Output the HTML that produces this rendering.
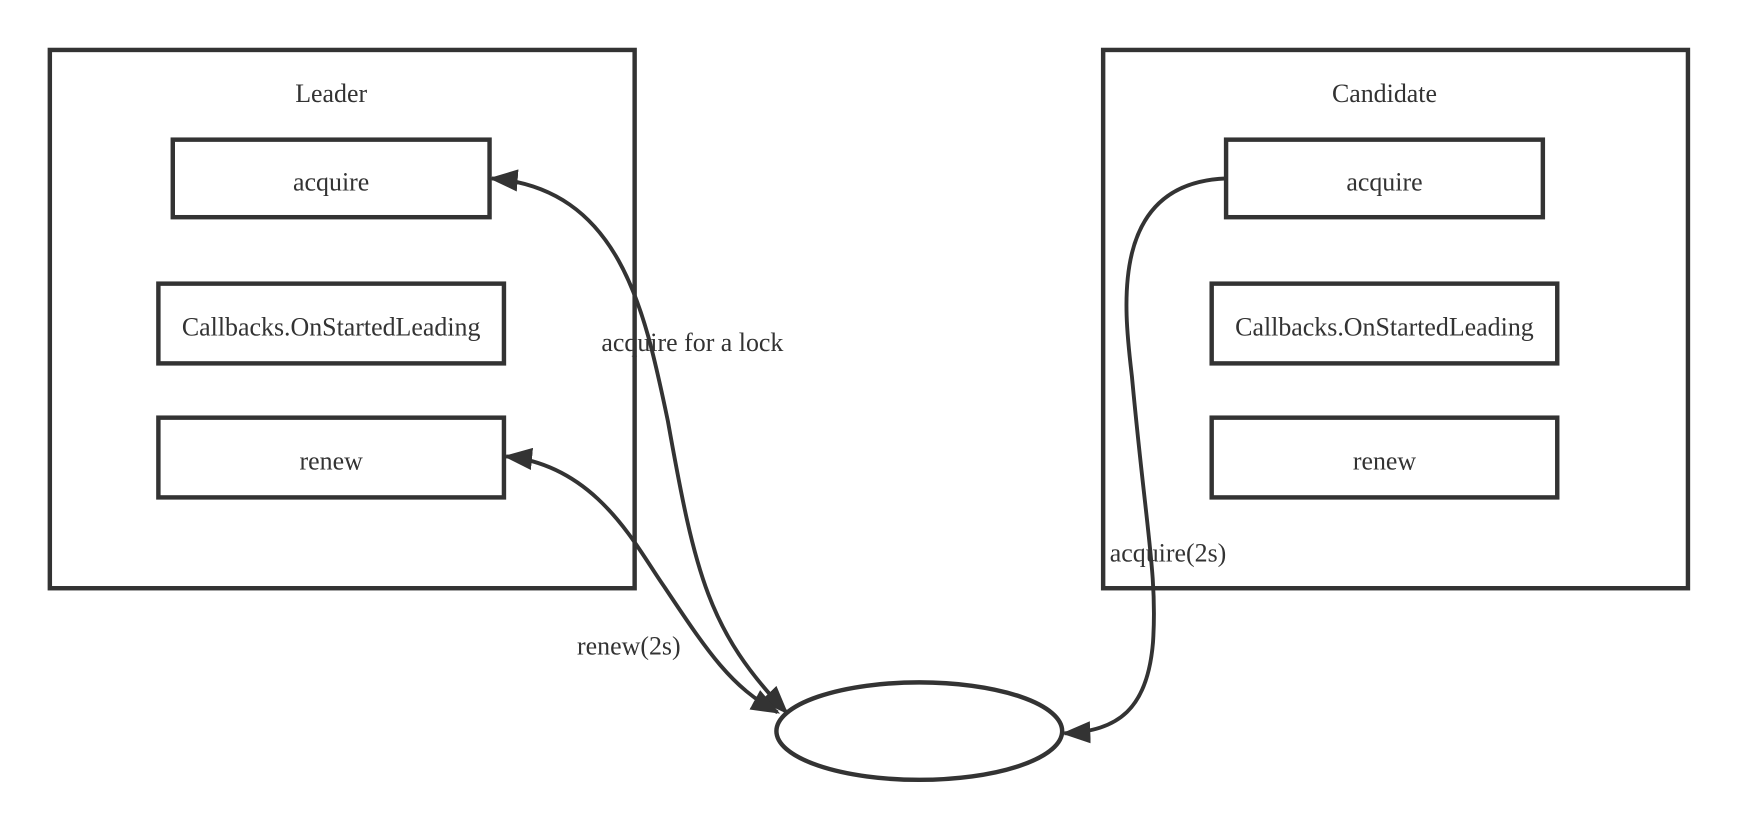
<!DOCTYPE html>
<html><head><style>body{margin:0;background:#fff}</style></head><body>
<svg width="1740" height="832" viewBox="0 0 1571 751" xmlns="http://www.w3.org/2000/svg" font-family="Liberation Serif, serif" font-size="23.4" fill="#333">
<defs>
<marker id="b" viewBox="0 0 10 10" refX="9" refY="5" markerWidth="26" markerHeight="20" orient="auto-start-reverse" markerUnits="userSpaceOnUse" preserveAspectRatio="none"><path d="M0,0L10,5L0,10z" fill="#333"/></marker></defs>
<g fill="none" stroke="#333" stroke-width="4">
<rect x="45" y="45" width="528" height="486"/>
<rect x="156" y="126" width="286" height="70"/>
<rect x="143" y="256" width="312" height="72"/>
<rect x="143" y="377" width="312" height="72"/>
<rect x="996" y="45" width="528" height="486"/>
<rect x="1107" y="126" width="286" height="70"/>
<rect x="1094" y="256" width="312" height="72"/>
<rect x="1094" y="377" width="312" height="72"/>
<ellipse cx="830" cy="660" rx="129" ry="44"/>
</g>
<g fill="none" stroke="#333" stroke-width="3.5">
<path d="M444,161 C560,170 582,280 603,380 C628,520 640,570 710,643" marker-start="url(#b)" marker-end="url(#b)"/>
<path d="M457,412 C540,420 575,495 600,530 C640,590 660,620 702,643" marker-start="url(#b)" marker-end="url(#b)"/>
<path d="M1107,161 C1000,165 1015,280 1022,340 C1035,480 1045,520 1041,580 C1036,640 1010,660 961,662" marker-end="url(#b)"/>
</g>
<g text-anchor="middle">
<text x="299" y="92">Leader</text>
<text x="299" y="172">acquire</text>
<text x="299" y="303">Callbacks.OnStartedLeading</text>
<text x="299" y="424">renew</text>
<text x="1250" y="92">Candidate</text>
<text x="1250" y="172">acquire</text>
<text x="1250" y="303">Callbacks.OnStartedLeading</text>
<text x="1250" y="424">renew</text>
</g>
<text x="543" y="317">acquire for a lock</text>
<text x="521" y="591">renew(2s)</text>
<text x="1002" y="507">acquire(2s)</text>
</svg>
</body></html>
